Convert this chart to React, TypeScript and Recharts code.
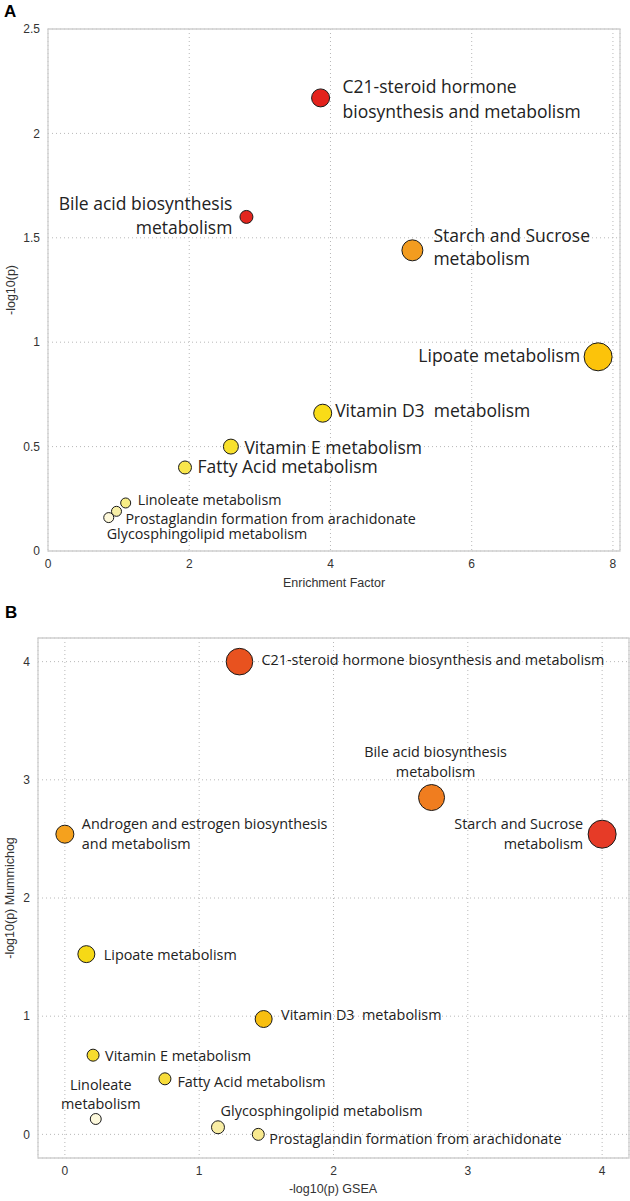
import React from "react";
import {
  ScatterChart,
  Scatter,
  XAxis,
  YAxis,
  CartesianGrid,
  ReferenceArea,
} from "recharts";

// Panel A: enrichment factor vs -log10(p)
const pathwaysA = [
  "C21-steroid hormone\nbiosynthesis and metabolism",
  "Bile acid biosynthesis\nmetabolism",
  "Starch and Sucrose\nmetabolism",
  "Lipoate metabolism",
  "Vitamin D3  metabolism",
  "Vitamin E metabolism",
  "Fatty Acid metabolism",
  "Linoleate metabolism",
  "Prostaglandin formation from arachidonate",
  "Glycosphingolipid metabolism",
];
const enrichmentA = [3.86, 2.81, 5.16, 7.79, 3.89, 2.59, 1.94, 1.1, 0.97, 0.86];
const logPA = [2.17, 1.6, 1.44, 0.93, 0.66, 0.5, 0.4, 0.23, 0.19, 0.16];
const hitsA = [81, 42, 110, 196, 81, 56, 42, 25, 25, 25];
const xTicksA = [0, 2, 4, 6, 8];
const yTicksA = [0, 0.5, 1, 1.5, 2, 2.5];

// Panel B: GSEA vs Mummichog
const pathwaysB = [
  "C21-steroid hormone biosynthesis and metabolism",
  "Bile acid biosynthesis\nmetabolism",
  "Androgen and estrogen biosynthesis\nand metabolism",
  "Starch and Sucrose\nmetabolism",
  "Lipoate metabolism",
  "Vitamin D3  metabolism",
  "Vitamin E metabolism",
  "Fatty Acid metabolism",
  "Linoleate\nmetabolism",
  "Glycosphingolipid metabolism",
  "Prostaglandin formation from arachidonate",
];
const gseaB = [1.3, 2.73, 0.0, 4.0, 0.16, 1.48, 0.21, 0.745, 0.23, 1.14, 1.44];
const mummichogB = [4.0, 2.85, 2.54, 2.54, 1.525, 0.976, 0.67, 0.47, 0.13, 0.06, 0.0];
const hitsB = [177, 169, 81, 196, 72, 72, 36, 36, 30, 42, 36];
const ticksB = [0, 1, 2, 3, 4];

const COLORS_A = [
  "#e3221c", "#e3261f", "#f39c1f", "#fcc30a", "#f9dc18",
  "#f9e12c", "#f8e64c", "#f8ee86", "#f7efa6", "#fdf8da",
];
const COLORS_B = [
  "#e8521f", "#f07d1f", "#f5a11d", "#e63b27", "#f6d916", "#f8bf10",
  "#f7dc2e", "#f7dc3a", "#fdf9dc", "#f8eda4", "#f8e98e",
];

// label offsets from the bubble centre
const LABELS_A = [
  { dx: 22, dy: -12, anchor: "start", lh: 25 },
  { dx: -14, dy: -14, anchor: "end", lh: 24 },
  { dx: 21, dy: -15, anchor: "start", lh: 23 },
  { dx: -18, dy: -2, anchor: "end" },
  { dx: 12.5, dy: -3, anchor: "start" },
  { dx: 13.5, dy: 0, anchor: "start" },
  { dx: 12.5, dy: -1, anchor: "start" },
  { dx: 12, dy: -3, anchor: "start", small: true },
  { dx: 9, dy: 7, anchor: "start", small: true },
  { dx: -2, dy: 16, anchor: "start", small: true },
];
const LABELS_B = [
  { dx: 22, dy: -2, anchor: "start" },
  { dx: 4, dy: -46, anchor: "middle", lh: 19.5 },
  { dx: 17, dy: -10.6, anchor: "start", lh: 19.5 },
  { dx: -19, dy: -10.6, anchor: "end", lh: 19.5 },
  { dx: 17.4, dy: 0, anchor: "start" },
  { dx: 17.4, dy: -5, anchor: "start" },
  { dx: 12, dy: 0.7, anchor: "start" },
  { dx: 12.5, dy: 2.7, anchor: "start" },
  { dx: 5, dy: -35, anchor: "middle", lh: 19 },
  { dx: 2.6, dy: -16.3, anchor: "start" },
  { dx: 11, dy: 3.7, anchor: "start" },
];

const dataA = pathwaysA.map((name, i) => ({
  idx: i,
  name,
  x: enrichmentA[i],
  y: logPA[i],
  hits: hitsA[i],
}));
const dataB = pathwaysB.map((name, i) => ({
  idx: i,
  name,
  x: gseaB[i],
  y: mummichogB[i],
  hits: hitsB[i],
}));

const AXIS_FONT = "'Liberation Sans', Arial, sans-serif";
const LABEL_FONT = "'Open Sans', sans-serif";

function makeBubble(colors: string[], labels: any[], big: number, small: number) {
  return (props: any) => {
    const { cx, cy, payload } = props;
    const i = payload.idx;
    const r = Math.sqrt(payload.hits);
    const lay = labels[i];
    const fs = lay.small ? small : big;
    const lh = lay.lh || fs * 1.4;
    const lines: string[] = payload.name.split("\n");
    return (
      <g>
        <circle cx={cx} cy={cy} r={r} fill={colors[i]} stroke="#1a1a1a" strokeWidth={1} />
        {lines.map((ln, k) => (
          <text
            key={k}
            x={cx + lay.dx}
            y={cy + lay.dy + k * lh}
            textAnchor={lay.anchor}
            dominantBaseline="central"
            fontSize={fs}
            fontFamily={LABEL_FONT}
            fill="#222"
            style={{ whiteSpace: "pre" }}
          >
            {ln}
          </text>
        ))}
      </g>
    );
  };
}

const tickStyle = { fontSize: 12, fill: "#333", fontFamily: AXIS_FONT };

export default function App() {
  return (
    <div style={{ position: "absolute", left: 0, top: 0, width: 630, height: 1201, background: "#fff" }}>
      <div style={{ position: "absolute", left: 4, top: 2, fontSize: 17, fontWeight: 700, fontFamily: AXIS_FONT }}>
        A
      </div>
      <div style={{ position: "absolute", left: 0, top: 0 }}>
        <ScatterChart width={630} height={595} margin={{ top: 29, right: 10, bottom: 0, left: 0 }}>
          <CartesianGrid strokeDasharray="1 3" stroke="#b8b8b8" />
          <ReferenceArea x1={0} x2={8.1} y1={0} y2={2.5} fill="none" stroke="#cfcfcf" strokeWidth={1.3} ifOverflow="visible" />
          <XAxis
            type="number"
            dataKey="x"
            domain={[0, 8.1]}
            ticks={xTicksA}
            axisLine={false}
            tickLine={false}
            height={44}
            tick={tickStyle}
            label={{
              content: () => (
                <text x={334} y={583} textAnchor="middle" dominantBaseline="central" fontSize={12.5} fontFamily={AXIS_FONT} fill="#333">
                  Enrichment Factor
                </text>
              ),
            }}
          />
          <YAxis
            type="number"
            dataKey="y"
            domain={[0, 2.5]}
            ticks={yTicksA}
            axisLine={false}
            tickLine={false}
            width={48}
            tick={tickStyle}
            label={{
              content: () => (
                <text x={11} y={290} transform="rotate(-90, 11, 290)" textAnchor="middle" dominantBaseline="central" fontSize={12.5} fontFamily={AXIS_FONT} fill="#333">
                  -log10(p)
                </text>
              ),
            }}
          />
          <Scatter data={dataA} isAnimationActive={false} shape={makeBubble(COLORS_A, LABELS_A, 17.5, 14.3)} />
        </ScatterChart>
      </div>
      <div style={{ position: "absolute", left: 5, top: 603, fontSize: 17, fontWeight: 700, fontFamily: AXIS_FONT }}>
        B
      </div>
      <div style={{ position: "absolute", left: 0, top: 595 }}>
        <ScatterChart width={630} height={606} margin={{ top: 43, right: 1, bottom: 0, left: 0 }}>
          <CartesianGrid strokeDasharray="1 3" stroke="#b8b8b8" />
          <ReferenceArea x1={-0.2} x2={4.2} y1={-0.2} y2={4.2} fill="none" stroke="#cfcfcf" strokeWidth={1.3} ifOverflow="visible" />
          <XAxis
            type="number"
            dataKey="x"
            domain={[-0.2, 4.2]}
            ticks={ticksB}
            axisLine={false}
            tickLine={false}
            height={43}
            tick={tickStyle}
            label={{
              content: () => (
                <text x={333} y={594} textAnchor="middle" dominantBaseline="central" fontSize={12.5} fontFamily={AXIS_FONT} fill="#333">
                  -log10(p) GSEA
                </text>
              ),
            }}
          />
          <YAxis
            type="number"
            dataKey="y"
            domain={[-0.2, 4.2]}
            ticks={ticksB}
            axisLine={false}
            tickLine={false}
            width={38}
            tick={tickStyle}
            label={{
              content: () => (
                <text x={10} y={303} transform="rotate(-90, 10, 303)" textAnchor="middle" dominantBaseline="central" fontSize={12.5} fontFamily={AXIS_FONT} fill="#333">
                  -log10(p) Mummichog
                </text>
              ),
            }}
          />
          <Scatter data={dataB} isAnimationActive={false} shape={makeBubble(COLORS_B, LABELS_B, 14.4, 14.4)} />
        </ScatterChart>
      </div>
    </div>
  );
}
